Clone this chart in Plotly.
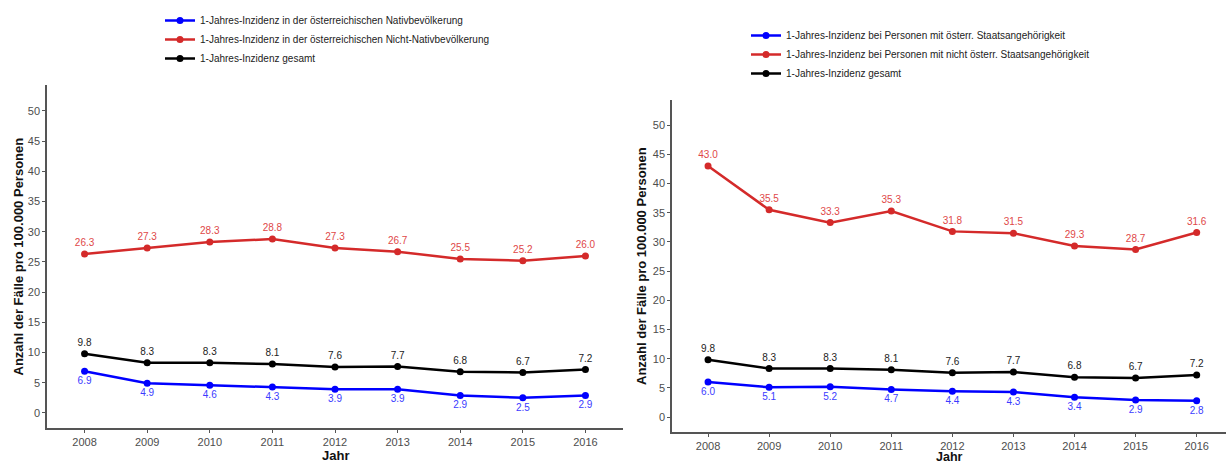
import plotly.graph_objects as go

years = [2008, 2009, 2010, 2011, 2012, 2013, 2014, 2015, 2016]

# Left panel
left_native = [6.9, 4.9, 4.6, 4.3, 3.9, 3.9, 2.9, 2.5, 2.9]
left_nonnative = [26.3, 27.3, 28.3, 28.8, 27.3, 26.7, 25.5, 25.2, 26.0]
left_total = [9.8, 8.3, 8.3, 8.1, 7.6, 7.7, 6.8, 6.7, 7.2]

# Right panel
right_austrian = [6.0, 5.1, 5.2, 4.7, 4.4, 4.3, 3.4, 2.9, 2.8]
right_foreign = [43.0, 35.5, 33.3, 35.3, 31.8, 31.5, 29.3, 28.7, 31.6]
right_total = [9.8, 8.3, 8.3, 8.1, 7.6, 7.7, 6.8, 6.7, 7.2]

left_names = [
    "1-Jahres-Inzidenz in der österreichischen Nativbevölkerung",
    "1-Jahres-Inzidenz in der österreichischen Nicht-Nativbevölkerung",
    "1-Jahres-Inzidenz gesamt",
]
right_names = [
    "1-Jahres-Inzidenz bei Personen mit österr. Staatsangehörigkeit",
    "1-Jahres-Inzidenz bei Personen mit nicht österr. Staatsangehörigkeit",
    "1-Jahres-Inzidenz gesamt",
]

line_colors = ["#0000ff", "#d42a2a", "#000000"]
text_colors = ["#3b3bff", "#e04848", "#222222"]
text_pos = ["bottom center", "top center", "top center"]

FONT = "Liberation Sans, Arial, sans-serif"
W, H = 1228, 464

fig = go.Figure()

def add_panel(series, names, xa, ya, legend):
    for vals, name, lc, tc, tp in zip(series, names, line_colors, text_colors, text_pos):
        fig.add_trace(go.Scatter(
            x=years, y=vals, name=name, mode="lines+markers+text",
            line=dict(color=lc, width=2.5),
            marker=dict(color=lc, size=7),
            text=[f"{v:.1f}" for v in vals], textposition=tp,
            textfont=dict(color=tc, size=10, family=FONT),
            xaxis=xa, yaxis=ya, legend=legend, cliponaxis=False,
        ))

add_panel([left_native, left_nonnative, left_total], left_names, "x", "y", "legend")
add_panel([right_austrian, right_foreign, right_total], right_names, "x2", "y2", "legend2")

def px_x(p):
    return p / W

def px_y(p):
    return 1 - p / H

axis_common = dict(
    showline=True, linecolor="#555555", linewidth=1.5,
    ticks="outside", ticklen=3, tickcolor="#555555", tickwidth=1,
    showgrid=False, zeroline=False,
    tickfont=dict(size=11, color="#4d4d4d", family=FONT),
)

fig.update_layout(
    width=W, height=H,
    margin=dict(l=0, r=0, t=0, b=0),
    paper_bgcolor="white", plot_bgcolor="white",
    font=dict(family=FONT),
    xaxis=dict(domain=[px_x(47), px_x(623)], range=[2007.4, 2016.6],
               tickvals=years, anchor="y", **axis_common),
    yaxis=dict(domain=[px_y(428), px_y(85)], range=[-2.5, 54.3],
               tickvals=list(range(0, 51, 5)), anchor="x", **axis_common),
    xaxis2=dict(domain=[px_x(672), px_x(1226)], range=[2007.41, 2016.48],
                tickvals=years, anchor="y2", **axis_common),
    yaxis2=dict(domain=[px_y(432), px_y(100)], range=[-2.56, 54.3],
                tickvals=list(range(0, 51, 5)), anchor="x2", **axis_common),
    legend=dict(x=px_x(160), y=px_y(6), xanchor="left", yanchor="top",
                font=dict(size=10, color="#222222", family=FONT),
                itemwidth=30, bgcolor="rgba(0,0,0,0)"),
    legend2=dict(x=px_x(746), y=px_y(21), xanchor="left", yanchor="top",
                 font=dict(size=10, color="#222222", family=FONT),
                 itemwidth=30, bgcolor="rgba(0,0,0,0)"),
    showlegend=True,
)

title_font = dict(size=13, color="#111111", family=FONT)
ytitle = "<b>Anzahl der Fälle pro 100.000 Personen</b>"
fig.add_annotation(text=ytitle, x=px_x(18), y=(px_y(428) + px_y(85)) / 2,
                   xref="paper", yref="paper", textangle=-90, showarrow=False,
                   font=title_font, xanchor="center", yanchor="middle")
fig.add_annotation(text=ytitle, x=px_x(641), y=(px_y(432) + px_y(100)) / 2,
                   xref="paper", yref="paper", textangle=-90, showarrow=False,
                   font=title_font, xanchor="center", yanchor="middle")
fig.add_annotation(text="<b>Jahr</b>", x=px_x(335), y=px_y(455),
                   xref="paper", yref="paper", showarrow=False,
                   font=title_font, xanchor="center", yanchor="middle")
fig.add_annotation(text="<b>Jahr</b>", x=px_x(949), y=0,
                   xref="paper", yref="paper", showarrow=False,
                   font=dict(size=12.5, color="#111111", family=FONT),
                   xanchor="center", yanchor="bottom", borderpad=0, yshift=-1)

fig.write_html("out.html")
